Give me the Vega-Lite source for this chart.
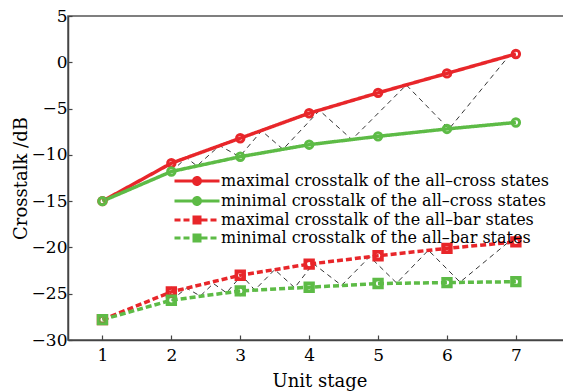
{
  "$schema": "https://vega.github.io/schema/vega-lite/v6.json",
  "width": 503,
  "height": 324,
  "autosize": {"type": "none"},
  "padding": {"left": 68, "top": 16, "right": 0, "bottom": 52},
  "background": "white",
  "config": {
    "view": {"stroke": "#555", "strokeWidth": 1.5},
    "font": "DejaVu Serif",
    "axis": {
      "labelFont": "DejaVu Serif",
      "titleFont": "DejaVu Serif",
      "labelColor": "black",
      "titleColor": "black",
      "labelFontSize": 17,
      "titleFontSize": 18,
      "titleFontWeight": "normal",
      "domainColor": "#444",
      "domainWidth": 1.5,
      "tickColor": "#444",
      "tickWidth": 1.2,
      "grid": false
    }
  },
  "datasets": {
    "curves": [
      {"stage": 1, "crosstalk": -15.0, "series": "maximal crosstalk of the all–cross states"},
      {"stage": 2, "crosstalk": -10.9, "series": "maximal crosstalk of the all–cross states"},
      {"stage": 3, "crosstalk": -8.2, "series": "maximal crosstalk of the all–cross states"},
      {"stage": 4, "crosstalk": -5.5, "series": "maximal crosstalk of the all–cross states"},
      {"stage": 5, "crosstalk": -3.3, "series": "maximal crosstalk of the all–cross states"},
      {"stage": 6, "crosstalk": -1.2, "series": "maximal crosstalk of the all–cross states"},
      {"stage": 7, "crosstalk": 0.9, "series": "maximal crosstalk of the all–cross states"},
      {"stage": 1, "crosstalk": -15.0, "series": "minimal crosstalk of the all–cross states"},
      {"stage": 2, "crosstalk": -11.8, "series": "minimal crosstalk of the all–cross states"},
      {"stage": 3, "crosstalk": -10.2, "series": "minimal crosstalk of the all–cross states"},
      {"stage": 4, "crosstalk": -8.9, "series": "minimal crosstalk of the all–cross states"},
      {"stage": 5, "crosstalk": -8.0, "series": "minimal crosstalk of the all–cross states"},
      {"stage": 6, "crosstalk": -7.2, "series": "minimal crosstalk of the all–cross states"},
      {"stage": 7, "crosstalk": -6.5, "series": "minimal crosstalk of the all–cross states"},
      {"stage": 1, "crosstalk": -27.8, "series": "maximal crosstalk of the all–bar states"},
      {"stage": 2, "crosstalk": -24.8, "series": "maximal crosstalk of the all–bar states"},
      {"stage": 3, "crosstalk": -23.0, "series": "maximal crosstalk of the all–bar states"},
      {"stage": 4, "crosstalk": -21.8, "series": "maximal crosstalk of the all–bar states"},
      {"stage": 5, "crosstalk": -20.9, "series": "maximal crosstalk of the all–bar states"},
      {"stage": 6, "crosstalk": -20.1, "series": "maximal crosstalk of the all–bar states"},
      {"stage": 7, "crosstalk": -19.4, "series": "maximal crosstalk of the all–bar states"},
      {"stage": 1, "crosstalk": -27.8, "series": "minimal crosstalk of the all–bar states"},
      {"stage": 2, "crosstalk": -25.7, "series": "minimal crosstalk of the all–bar states"},
      {"stage": 3, "crosstalk": -24.7, "series": "minimal crosstalk of the all–bar states"},
      {"stage": 4, "crosstalk": -24.3, "series": "minimal crosstalk of the all–bar states"},
      {"stage": 5, "crosstalk": -23.9, "series": "minimal crosstalk of the all–bar states"},
      {"stage": 6, "crosstalk": -23.8, "series": "minimal crosstalk of the all–bar states"},
      {"stage": 7, "crosstalk": -23.7, "series": "minimal crosstalk of the all–bar states"}
    ],
    "zigzag": [
      {"band": "cross", "step": 1, "stage": 2.0, "crosstalk": -11.8},
      {"band": "cross", "step": 2, "stage": 2.22, "crosstalk": -10.3},
      {"band": "cross", "step": 3, "stage": 2.37, "crosstalk": -11.2},
      {"band": "cross", "step": 4, "stage": 2.70, "crosstalk": -9.0},
      {"band": "cross", "step": 5, "stage": 2.99, "crosstalk": -10.2},
      {"band": "cross", "step": 6, "stage": 3.31, "crosstalk": -7.4},
      {"band": "cross", "step": 7, "stage": 3.62, "crosstalk": -9.4},
      {"band": "cross", "step": 8, "stage": 4.15, "crosstalk": -5.2},
      {"band": "cross", "step": 9, "stage": 4.62, "crosstalk": -8.35},
      {"band": "cross", "step": 10, "stage": 5.41, "crosstalk": -2.45},
      {"band": "cross", "step": 11, "stage": 6.03, "crosstalk": -7.2},
      {"band": "cross", "step": 12, "stage": 6.9, "crosstalk": 0.7},
      {"band": "bar", "step": 1, "stage": 2.0, "crosstalk": -25.7},
      {"band": "bar", "step": 2, "stage": 2.22, "crosstalk": -24.4},
      {"band": "bar", "step": 3, "stage": 2.42, "crosstalk": -25.25},
      {"band": "bar", "step": 4, "stage": 2.61, "crosstalk": -23.9},
      {"band": "bar", "step": 5, "stage": 2.80, "crosstalk": -24.9},
      {"band": "bar", "step": 6, "stage": 3.02, "crosstalk": -23.0},
      {"band": "bar", "step": 7, "stage": 3.21, "crosstalk": -24.6},
      {"band": "bar", "step": 8, "stage": 3.50, "crosstalk": -22.4},
      {"band": "bar", "step": 9, "stage": 3.79, "crosstalk": -24.35},
      {"band": "bar", "step": 10, "stage": 4.06, "crosstalk": -21.75},
      {"band": "bar", "step": 11, "stage": 4.47, "crosstalk": -24.1},
      {"band": "bar", "step": 12, "stage": 4.88, "crosstalk": -21.0},
      {"band": "bar", "step": 13, "stage": 5.27, "crosstalk": -23.85},
      {"band": "bar", "step": 14, "stage": 5.73, "crosstalk": -20.3},
      {"band": "bar", "step": 15, "stage": 6.19, "crosstalk": -23.75},
      {"band": "bar", "step": 16, "stage": 6.88, "crosstalk": -19.5}
    ]
  },
  "encoding": {
    "x": {
      "field": "stage",
      "type": "quantitative",
      "title": "Unit stage",
      "scale": {"domain": [0.5, 7.8], "nice": false, "zero": false},
      "axis": {"values": [1, 2, 3, 4, 5, 6, 7], "tickSize": -5, "labelPadding": 12, "titlePadding": 9}
    },
    "y": {
      "field": "crosstalk",
      "type": "quantitative",
      "title": "Crosstalk /dB",
      "scale": {"domain": [-30, 5], "nice": false, "zero": false},
      "axis": {"values": [-30, -25, -20, -15, -10, -5, 0, 5], "tickSize": -4, "labelPadding": 5, "titleX": -47, "titleY": 162, "titleBaseline": "middle", "titleAlign": "center", "titleAngle": -90}
    }
  },
  "layer": [
    {
      "data": {"name": "zigzag"},
      "mark": {"type": "line", "stroke": "#333", "strokeWidth": 1, "strokeDash": [5, 4]},
      "encoding": {
        "detail": {"field": "band", "type": "nominal"},
        "order": {"field": "step", "type": "quantitative"}
      }
    },
    {
      "data": {"name": "curves"},
      "mark": {"type": "line", "strokeWidth": 3.5},
      "encoding": {
        "color": {
          "field": "series",
          "type": "nominal",
          "scale": {
            "domain": ["maximal crosstalk of the all–cross states", "minimal crosstalk of the all–cross states", "maximal crosstalk of the all–bar states", "minimal crosstalk of the all–bar states"],
            "range": ["#e8262a", "#5dbb46", "#e8262a", "#5dbb46"]
          },
          "legend": {
            "orient": "none",
            "legendX": 121,
            "legendY": 157,
            "title": null,
            "padding": 0,
            "labelFont": "DejaVu Serif",
            "labelFontSize": 16,
            "labelColor": "black",
            "labelLimit": 0,
            "labelOffset": 16,
            "rowPadding": 0,
            "symbolSize": 100,
            "symbolStrokeWidth": 3,
            "encode": {
              "symbols": {
                "update": {
                  "shape": {"signal": "indexof(datum.value, 'bar') >= 0 ? 'M-4.5,0L-0.9,0M0.9,0L4.5,0M-0.9,-0.6L-0.3,-0.6M-0.3,-0.6L0.3,-0.6M0.3,-0.6L0.9,-0.6M-0.9,0L-0.3,0M-0.3,0L0.3,0M0.3,0L0.9,0M-0.9,0.6L-0.3,0.6M-0.3,0.6L0.3,0.6M0.3,0.6L0.9,0.6' : 'M-4.5,0L-0.7,0M0.7,0L4.5,0M-0.7,0A0.7,0.7,0,1,1,0.7,0A0.7,0.7,0,1,1,-0.7,0Z'"},
                  "strokeDash": {"signal": "indexof(datum.value, 'bar') >= 0 ? [4, 3] : [1, 0]"},
                  "stroke": {"signal": "scale('color', datum.value)"},
                  "fill": {"signal": "scale('color', datum.value)"},
                  "strokeWidth": {"value": 3},
                  "size": {"value": 100},
                  "opacity": {"value": 1}
                }
              }
            }
          }
        },
        "strokeDash": {
          "field": "series",
          "type": "nominal",
          "scale": {
            "domain": ["maximal crosstalk of the all–cross states", "minimal crosstalk of the all–cross states", "maximal crosstalk of the all–bar states", "minimal crosstalk of the all–bar states"],
            "range": [[1, 0], [1, 0], [6, 3], [6, 3]]
          },
          "legend": null
        }
      }
    },
    {
      "data": {"name": "curves"},
      "transform": [{"filter": "indexof(datum.series, 'cross') >= 0"}],
      "mark": {"type": "point", "shape": "circle", "filled": false, "strokeWidth": 3, "size": 55, "opacity": 1},
      "encoding": {
        "color": {"field": "series", "type": "nominal"}
      }
    },
    {
      "data": {"name": "curves"},
      "transform": [{"filter": "indexof(datum.series, 'bar') >= 0"}],
      "mark": {"type": "point", "shape": "square", "filled": false, "strokeWidth": 3, "size": 70, "opacity": 1},
      "encoding": {
        "color": {"field": "series", "type": "nominal"}
      }
    }
  ]
}
